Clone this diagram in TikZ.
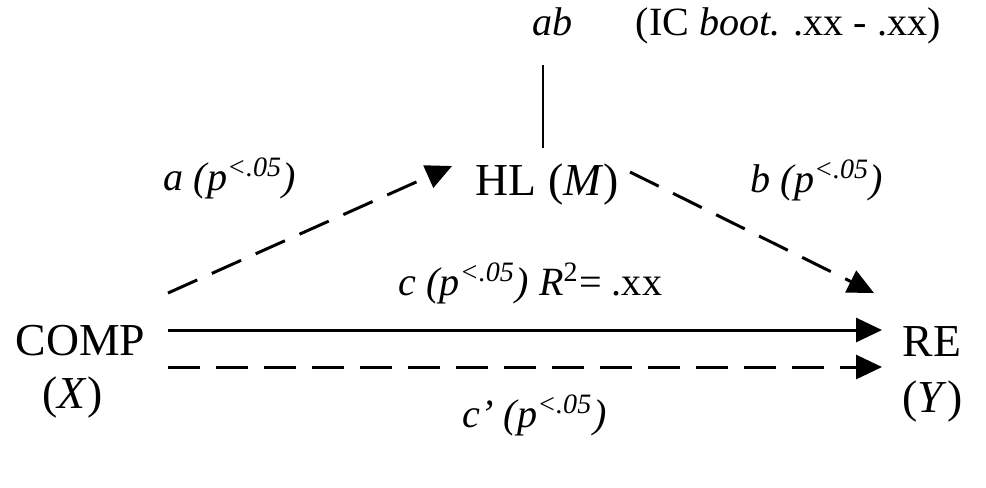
\documentclass[tikz,border=0pt]{standalone}
\usepackage{fontspec}
\setmainfont{Liberation Serif}
\usetikzlibrary{arrows.meta}

\begin{document}
\begin{tikzpicture}[
		x=0.01cm, y=-0.01cm,
		font=\fontsize{13}{16}\selectfont,
		etiq/.style = {anchor=base west, inner sep=0pt},
		peq/.style = {etiq, font=\fontsize{11.4}{14}\selectfont},
		flecha/.style = {line width=0.85pt, -{Triangle[length=0.26cm, width=0.24cm]}},
		discont/.style = {flecha, dash pattern=on 0.32cm off 0.16cm}
		]
		\useasboundingbox (0,0) rectangle (986,487);
		% Variables
		\node[etiq] (comp) at (15,355) {COMP};
		\node[etiq] (compx) at (42,408) {(\textit{X})};
		\node[etiq] (hl) at (475,195) {HL (\textit{M})};
		\node[etiq] (re) at (902,356) {RE};
		\node[etiq] (rey) at (902,412) {(\textit{Y})};
		\node[peq] (ab) at (532,35) {\textit{ab}};
		\node[peq] (ic) at (635,35) {(IC \textit{boot.} .xx - .xx)};
		
		% Etiquetas
		\node[peq] (labA) at (163,190) {\textit{a (p\textsuperscript{<.05})}};
		\node[peq] (labB) at (750,192) {\textit{b (p\textsuperscript{<.05})}};
		\node[peq] (labC) at (398,295) {\textit{c (p\textsuperscript{<.05}) R}\textsuperscript{2}= .xx};
		\node[peq] (labCp) at (462,427) {\textit{c’ (p\textsuperscript{<.05})}};
		
		% Extremos
		\coordinate (compA) at (168,293);
		\coordinate (hlA) at (452,166);
		\coordinate (hlB) at (630,172);
		\coordinate (reB) at (874,293);
		\coordinate (compC) at (168,330);
		\coordinate (reC) at (882,330);
		\coordinate (compCp) at (168,367);
		\coordinate (reCp) at (882,367);
		\coordinate (hlTop) at (543,148);
		\coordinate (abBot) at (543,65);
		
		% Conexiones
		\draw[discont] (compA) -- (hlA);
		\draw[discont] (hlB) -- (reB);
		\draw[flecha] (compC) -- (reC);
		\draw[discont] (compCp) -- (reCp);
		\draw[line width=0.6pt] (hlTop) -- (abBot);
	\end{tikzpicture}
\end{document}
